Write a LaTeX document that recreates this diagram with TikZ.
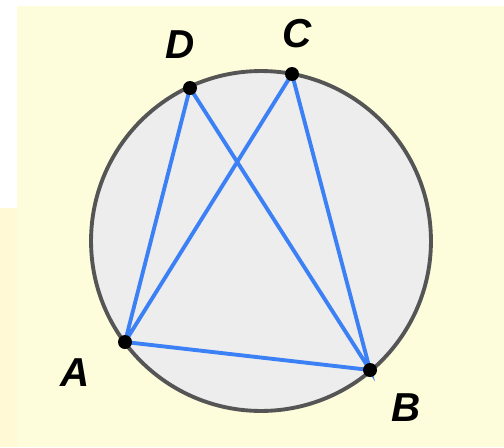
\documentclass[tikz,border=0pt]{standalone}
\usepackage{fontspec}
\setmainfont{Liberation Sans}
\usetikzlibrary{positioning}
\definecolor{bgyellow}{HTML}{FDFDDB}
\definecolor{stripyellow}{HTML}{FFF9D5}
\definecolor{diskgray}{HTML}{EDEDED}
\definecolor{rimgray}{HTML}{555555}
\definecolor{chordblue}{HTML}{3C80F5}
\tikzset{
  chord/.style={draw=chordblue, line width=2.2pt, line cap=round},
  ptdot/.style={circle, fill=black, inner sep=0pt, minimum size=0.28cm},
  ptlabel/.style={font=\fontsize{23}{23}\selectfont\bfseries\itshape, inner sep=0pt}
}
\begin{document}
\begin{tikzpicture}[x=0.02cm, y=-0.02cm]
  % backdrop
  \fill[white] (0,0) rectangle (504,447);
  \fill[stripyellow] (0,208) rectangle (17,447);
  \fill[bgyellow] (17,6) rectangle (504,447);
  \useasboundingbox (0,0) rectangle (504,447);
  % circle
  \coordinate (O) at (261,241);
  \draw[fill=diskgray, draw=rimgray, line width=2.2pt] (O) circle[radius=3.4cm];
  % points on the circle
  \coordinate (A) at (125,342);
  \coordinate (B) at (370,370);
  \coordinate (C) at (292,74);
  \coordinate (D) at (190,88);
  \draw[chord] (A) -- (D) -- (B) -- (C) -- (A) -- (B);
  \node[ptdot] (dotA) at (A) {};
  \node[ptdot] (dotB) at (B) {};
  \node[ptdot] (dotC) at (C) {};
  \node[ptdot] (dotD) at (D) {};
  \node[ptlabel] (labA) at (75,373) {A};
  \node[ptlabel] (labB) at (406,408) {B};
  \node[ptlabel] (labC) at (297,34) {C};
  \node[ptlabel] (labD) at (180,45) {D};
\end{tikzpicture}
\end{document}
